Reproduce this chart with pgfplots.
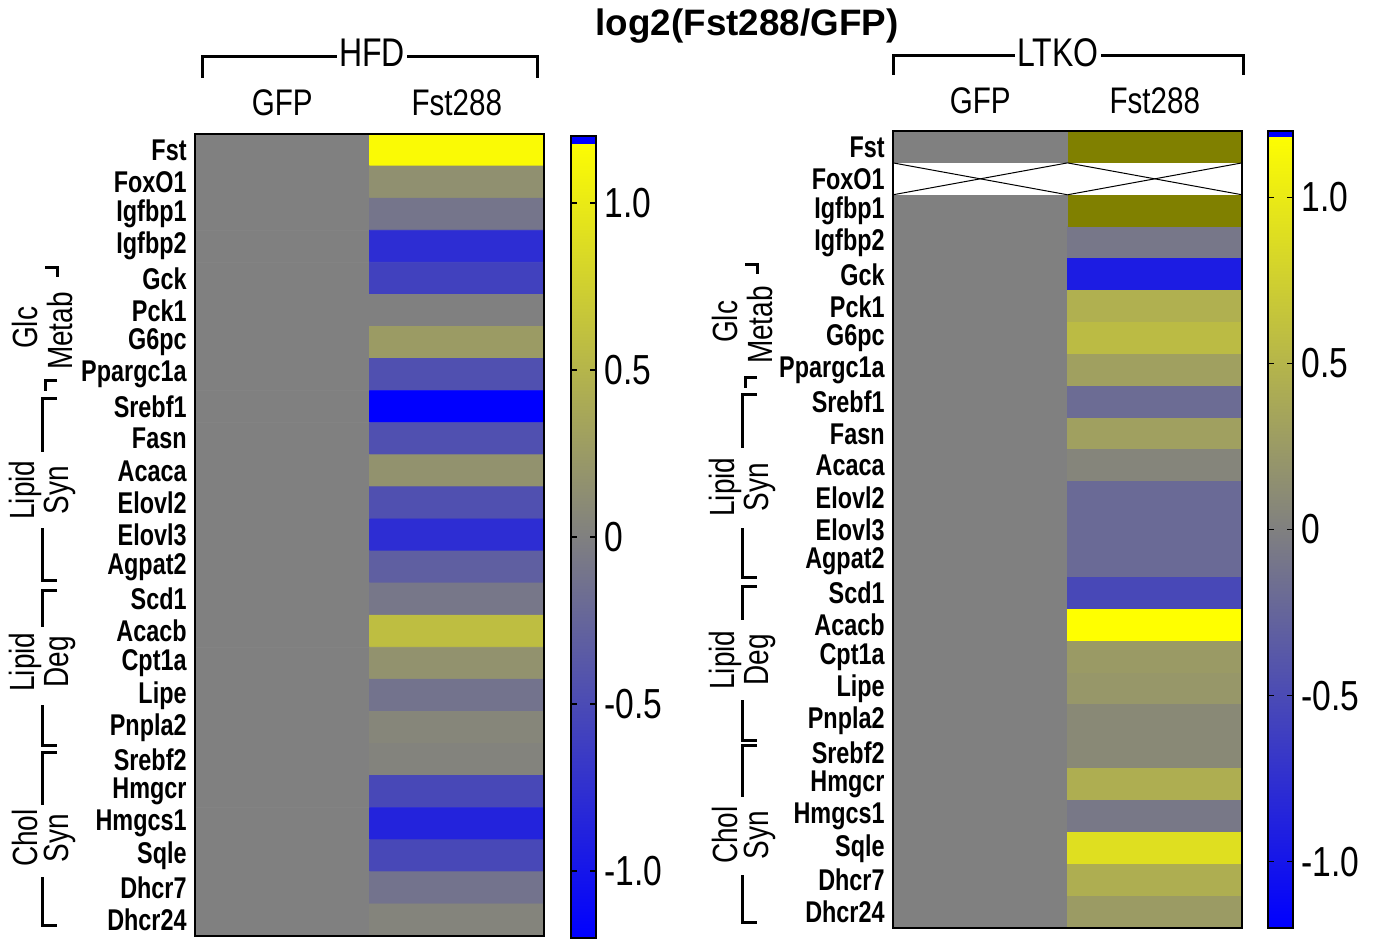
\documentclass[border=0pt]{standalone}
\usepackage{fontspec}
\setmainfont{Liberation Sans}
\newfontfamily\cond[FakeStretch=0.8]{Liberation Sans}
\newfontfamily\condb[FakeStretch=0.78]{Liberation Sans}
\usepackage{pgfplots}
\usepackage{pgfplotstable}
\pgfplotsset{compat=1.18}

\definecolor{olivec}{RGB}{128,128,0}
\newcommand\genef{\condb\bfseries\fontsize{15pt}{17pt}\selectfont}
\newcommand\tickf{\cond\fontsize{21pt}{24pt}\selectfont}
\newcommand\hdrf{\cond\fontsize{18.5pt}{20pt}\selectfont}
\newcommand\grpf{\cond\fontsize{17.5pt}{20pt}\selectfont}
\newcommand\px[2]{({(#1)*0.5pt},{(939-(#2))*0.5pt})}

% HFD: x=0 GFP, x=1 Fst288; y = gene row
\pgfplotstableread{
x y c
0 1 0
1 1 1.15
0 2 0
1 2 0.15
0 3 0
1 3 -0.10
0 4 0
1 4 -0.78
0 5 0
1 5 -0.59
0 6 0
1 6 0.0
0 7 0
1 7 0.26
0 8 0
1 8 -0.45
0 9 0
1 9 -1.2
0 10 0
1 10 -0.45
0 11 0
1 11 0.17
0 12 0
1 12 -0.45
0 13 0
1 13 -0.78
0 14 0
1 14 -0.31
0 15 0
1 15 -0.08
0 16 0
1 16 0.59
0 17 0
1 17 0.17
0 18 0
1 18 -0.12
0 19 0
1 19 0.06
0 20 0
1 20 0.03
0 21 0
1 21 -0.52
0 22 0
1 22 -0.87
0 23 0
1 23 -0.52
0 24 0
1 24 -0.12
0 25 0
1 25 0.04
}\hfdtab

% LTKO
\pgfplotstableread{
x y c
0 1 0
1 1 0
0 2 0
1 2 0
0 3 0
1 3 0
0 4 0
1 4 -0.08
0 5 0
1 5 -0.94
0 6 0
1 6 0.45
0 7 0
1 7 0.56
0 8 0
1 8 0.30
0 9 0
1 9 -0.19
0 10 0
1 10 0.30
0 11 0
1 11 0.05
0 12 0
1 12 -0.21
0 13 0
1 13 -0.21
0 14 0
1 14 -0.21
0 15 0
1 15 -0.52
0 16 0
1 16 1.2
0 17 0
1 17 0.25
0 18 0
1 18 0.22
0 19 0
1 19 0.09
0 20 0
1 20 0.09
0 21 0
1 21 0.44
0 22 0
1 22 -0.07
0 23 0
1 23 0.90
0 24 0
1 24 0.44
0 25 0
1 25 0.26
}\ltkotab

\pgfplotsset{
  hm/.style={
    scale only axis, width=174.5pt, anchor=center,
    xmin=-0.5, xmax=1.5, ymin=0.5, ymax=25.5, y dir=reverse,
    xtick={0,1}, xticklabels={GFP,Fst288}, xticklabel pos=upper,
    ytick={1,...,25},
    yticklabels={Fst,FoxO1,Igfbp1,Igfbp2,Gck,Pck1,G6pc,Ppargc1a,Srebf1,Fasn,Acaca,Elovl2,Elovl3,Agpat2,Scd1,Acacb,Cpt1a,Lipe,Pnpla2,Srebf2,Hmgcr,Hmgcs1,Sqle,Dhcr7,Dhcr24},
    yticklabel style={font=\genef, anchor=east, inner sep=0pt, xshift=-4pt},
    tick style={draw=none}, major tick length=0pt,
    axis line style={line width=1pt},
    axis on top,
    colormap={bgy}{rgb255=(0,0,255) rgb255=(128,128,128) rgb255=(255,255,0)},
    point meta min=-1.2, point meta max=1.2,
    colorbar,
  },
  cb/.style={
    at={(parent axis.east)}, anchor=west,
    scale only axis, width=12.5pt,
    ytick={-1,-0.5,0,0.5,1},
    yticklabels={-1.0,-0.5,0,0.5,1.0},
    yticklabel style={font=\tickf, inner sep=0pt, anchor=west, xshift=4pt},
    ytick pos=both, yticklabel pos=right,
    tick align=inside, major tick length=3pt,
    tick style={draw=black, line width=0.8pt},
    axis line style={line width=1pt},
  }
}

\begin{document}
\begin{tikzpicture}
\useasboundingbox (0,0) rectangle (688.5pt,469.5pt);

% ---------- HFD ----------
\begin{axis}[hm, at={(184.75pt,202pt)}, height=401pt,
  xticklabel style={font=\hdrf, anchor=south, inner sep=0pt, yshift=9pt},
  colorbar shift/.style={xshift=13.5pt, yshift=-1pt},
  colorbar style={cb, height=401pt,
    extra description/.code={
      \fill[blue] (rel axis cs:0,0.99) rectangle (rel axis cs:1,1);
      \draw[line width=1pt] (rel axis cs:0,0) rectangle (rel axis cs:1,1);
    }},
]
\addplot[matrix plot*, mesh/cols=2, point meta=explicit] table[x=x, y=y, meta=c] {\hfdtab};
\end{axis}

% ---------- LTKO ----------
\begin{axis}[hm, at={(533.75pt,204.75pt)}, height=398.5pt,
  xticklabel style={font=\hdrf, anchor=south, inner sep=0pt, yshift=8.5pt},
  colorbar shift/.style={xshift=13pt, yshift=0pt},
  colorbar style={cb, height=398.5pt,
    extra description/.code={
      \fill[blue] (rel axis cs:0,0.992) rectangle (rel axis cs:1,1);
      \draw[line width=1pt] (rel axis cs:0,0) rectangle (rel axis cs:1,1);
    }},
]
\addplot[matrix plot*, mesh/cols=2, point meta=explicit] table[x=x, y=y, meta=c] {\ltkotab};
\addplot[fill=olivec, draw=none] coordinates {(0.5,0.5) (1.5,0.5) (1.5,1.5) (0.5,1.5)} -- cycle;
\addplot[fill=olivec, draw=none] coordinates {(0.5,2.5) (1.5,2.5) (1.5,3.5) (0.5,3.5)} -- cycle;
\addplot[fill=white, draw=none] coordinates {(-0.5,1.5) (1.5,1.5) (1.5,2.5) (-0.5,2.5)} -- cycle;
\addplot[black, line width=0.5pt] coordinates {(-0.5,1.5) (0.5,2.5)};
\addplot[black, line width=0.5pt] coordinates {(-0.5,2.5) (0.5,1.5)};
\addplot[black, line width=0.5pt] coordinates {(0.5,1.5) (1.5,2.5)};
\addplot[black, line width=0.5pt] coordinates {(0.5,2.5) (1.5,1.5)};
\end{axis}

% ---------- title ----------
\node[anchor=base, font=\bfseries\fontsize{18.4pt}{20pt}\selectfont, inner sep=0pt] at \px{747}{36} {log2(Fst288/GFP)};

% ---------- top brackets ----------
\draw[line width=1.5pt] \px{202}{78} -- \px{202}{57} -- \px{537}{57} -- \px{537}{78};
\node[fill=white, inner sep=1pt, font=\cond\fontsize{20pt}{20pt}\selectfont] at \px{372}{53} {HFD};
\draw[line width=1.5pt] \px{893}{75} -- \px{893}{56} -- \px{1243}{56} -- \px{1243}{75};
\node[fill=white, inner sep=1pt, font=\cond\fontsize{20pt}{20pt}\selectfont] at \px{1058}{53} {LTKO};

% ---------- group brackets ----------
\begin{scope}[line width=1.5pt]
\draw \px{45}{268} -- \px{57}{268} -- \px{57}{277};
\draw \px{57}{381} -- \px{45}{381} -- \px{45}{391};
\draw \px{57}{399} -- \px{42}{399} -- \px{42}{452};
\draw \px{42}{528} -- \px{42}{580} -- \px{57}{580};
\draw \px{57}{590} -- \px{42}{590} -- \px{42}{627};
\draw \px{42}{705} -- \px{42}{745} -- \px{57}{745};
\draw \px{57}{752} -- \px{42}{752} -- \px{42}{805};
\draw \px{42}{877} -- \px{42}{925} -- \px{57}{925};
% right
\draw \px{745}{265} -- \px{757}{265} -- \px{757}{274};
\draw \px{757}{378} -- \px{745}{378} -- \px{745}{388};
\draw \px{757}{395} -- \px{742}{395} -- \px{742}{448};
\draw \px{742}{528} -- \px{742}{577} -- \px{757}{577};
\draw \px{757}{586} -- \px{742}{586} -- \px{742}{620};
\draw \px{742}{700} -- \px{742}{740} -- \px{757}{740};
\draw \px{757}{745} -- \px{742}{745} -- \px{742}{797};
\draw \px{742}{875} -- \px{742}{922} -- \px{757}{922};
\end{scope}
\begin{scope}[every node/.style={rotate=90, font=\grpf, inner sep=0pt}]
\node at \px{25}{328} {Glc};
\node at \px{60}{331} {Metab};
\node at \px{25}{490} {Lipid};
\node at \px{60}{490} {Syn};
\node at \px{25}{662} {Lipid};
\node at \px{60}{662} {Deg};
\node at \px{25}{838} {Chol};
\node at \px{60}{838} {Syn};
\node at \px{725}{322} {Glc};
\node at \px{760}{325} {Metab};
\node at \px{725}{487} {Lipid};
\node at \px{760}{487} {Syn};
\node at \px{725}{660} {Lipid};
\node at \px{760}{660} {Deg};
\node at \px{725}{835} {Chol};
\node at \px{760}{835} {Syn};
\end{scope}
\end{tikzpicture}
\end{document}
